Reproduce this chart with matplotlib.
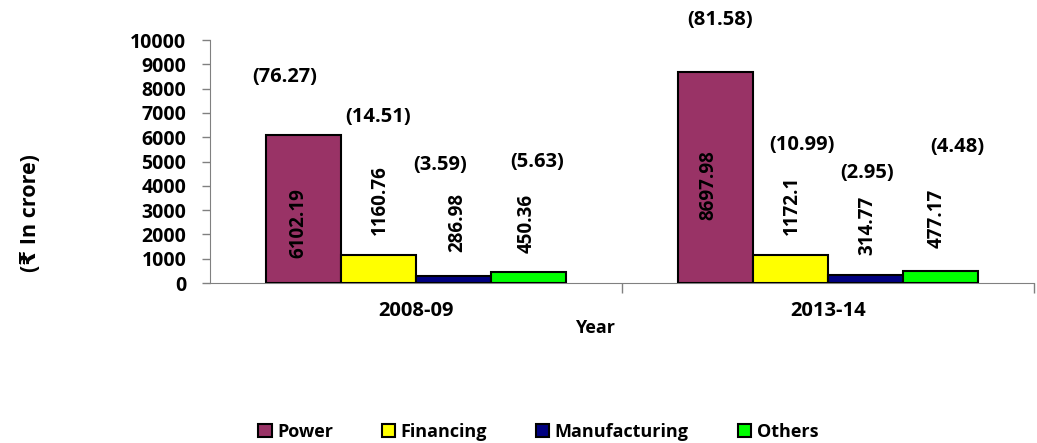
import numpy as np
import matplotlib.pyplot as plt

plt.rcParams['font.family'] = ['Open Sans', 'DejaVu Sans']
plt.rcParams['font.weight'] = 'bold'

# Données
years = ['2008-09', '2013-14']
sectors = ['Power', 'Financing', 'Manufacturing', 'Others']
values = {
    'Power': [6102.19, 8697.98],
    'Financing': [1160.76, 1172.1],
    'Manufacturing': [286.98, 314.77],
    'Others': [450.36, 477.17],
}
shares = {
    'Power': ['(76.27)', '(81.58)'],
    'Financing': ['(14.51)', '(10.99)'],
    'Manufacturing': ['(3.59)', '(2.95)'],
    'Others': ['(5.63)', '(4.48)'],
}
colors = ['#993366', '#FFFF00', '#000080', '#00FF00']

# placement manuel des étiquettes (comme dans l'original)
share_y = {
    'Power': [8480, 10820],
    'Financing': [6830, 5680],
    'Manufacturing': [4860, 4530],
    'Others': [4980, 5600],
}
share_dx = {
    'Power': [-0.25, 0.06],
    'Financing': [0.0, 0.15],
    'Manufacturing': [-0.18, 0.02],
    'Others': [0.11, 0.22],
}
value_y = {
    'Power': [2470, 4030],
    'Financing': [3420, 3210],
    'Manufacturing': [2510, 2390],
    'Others': [2470, 2680],
}
value_dx = {
    'Power': [-0.07, -0.1],
    'Financing': [0.02, 0.02],
    'Manufacturing': [0.05, 0.02],
    'Others': [-0.02, -0.05],
}

fig = plt.figure(figsize=(10.37, 4.43), dpi=100)
ax = fig.add_axes([0.2025, 0.361, 0.7945, 0.5485])

x = np.arange(len(years))
w = 75 / 412
for i, s in enumerate(sectors):
    pos = x + (i - 1.5) * w
    ax.bar(pos, values[s], width=w, color=colors[i], edgecolor='black',
           linewidth=1.5, label=s, zorder=3)
    for j in range(len(years)):
        ax.text(pos[j] + share_dx[s][j] * w, share_y[s][j], shares[s][j],
                ha='center', va='center', fontsize=14.5, fontweight='bold')
        ax.text(pos[j] + value_dx[s][j] * w, value_y[s][j], f"{values[s][j]:g}",
                ha='center', va='center', rotation=90, fontsize=13.5,
                fontweight='bold')

ax.set_xlim(-0.5, 1.5)
ax.set_ylim(0, 10000)
ax.set_yticks(np.arange(0, 10001, 1000))
ax.tick_params(axis='y', labelsize=14, length=6, width=1, direction='out', pad=11)
ax.set_xticks([0.5, 1.5])
ax.set_xticklabels([])
ax.set_xticks(x, minor=True)
ax.set_xticklabels(years, minor=True, fontsize=14.5, fontweight='bold')
ax.tick_params(axis='x', which='major', length=7, width=1, colors='#808080')
ax.tick_params(axis='x', which='minor', length=0, pad=13)
for lab in ax.get_yticklabels():
    lab.set_fontweight('bold')
ax.spines['top'].set_visible(False)
ax.spines['right'].set_visible(False)
ax.spines['left'].set_color('#808080')
ax.spines['bottom'].set_color('#808080')
ax.tick_params(axis='y', color='#808080')

fig.text(595 / 1037, 1 - 328 / 443, 'Year', ha='center', va='center',
         fontsize=13, fontweight='bold')
fig.text(30 / 1037, 1 - 213 / 443, '(₹ In crore)', ha='center', va='center',
         rotation=90, fontsize=15.5, fontweight='bold')

fig.legend(loc='center', bbox_to_anchor=(538 / 1037, 1 - 432 / 443), ncol=4,
           frameon=False, fontsize=13, handlelength=0.75, handleheight=0.75,
           handletextpad=0.3, columnspacing=2.7)

plt.savefig('out.png', dpi=100)
